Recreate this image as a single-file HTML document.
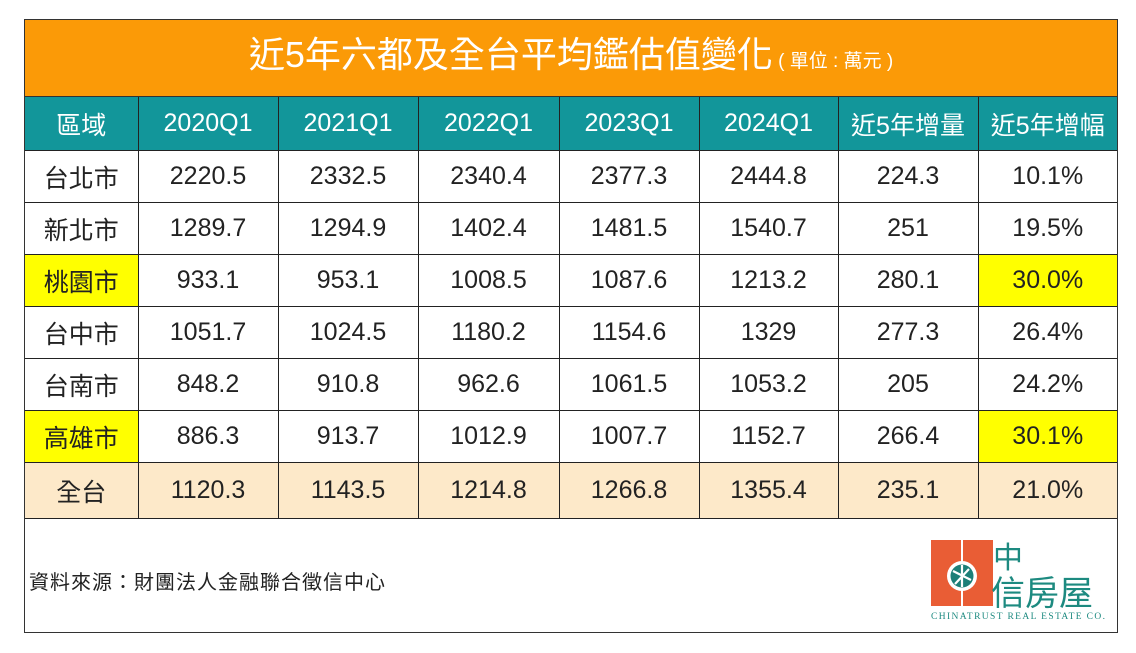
<!DOCTYPE html>
<html><head><meta charset="utf-8">
<style>
body{margin:0;background:#fff;width:1136px;height:653px;position:relative;overflow:hidden;font-family:"Liberation Sans","Noto Sans CJK TC",sans-serif;}
#box{position:absolute;left:24px;top:19px;width:1094px;height:614px;border:1.5px solid #333;box-sizing:border-box;}
#title{position:absolute;left:0;top:0;width:100%;height:77px;background:#fb9a07;color:#fff;text-align:center;line-height:70px;font-size:36px;border-bottom:1.5px solid #333;box-sizing:border-box;}
#title small{font-size:19px;}
table{position:absolute;left:0;top:77px;border-collapse:collapse;table-layout:fixed;width:1092px;}
td{border:1.5px solid #222;text-align:center;font-size:25px;color:#222;height:51px;padding:0;}
tr:first-child td{border-top:none;}
td:first-child{border-left:none}td:last-child{border-right:none}
tr.h td{background:#12969a;color:#fff;height:53px;}
tr.t td{background:#fde9c9;height:55px;}
.y{background:#ffff00;}
#src{position:absolute;left:4px;top:546px;font-size:20px;letter-spacing:1px;color:#222;}
</style></head><body>
<div id="box">
<div id="title">近5年六都及全台平均鑑估值變化<small> ( 單位 : 萬元 )</small></div>
<table>
<colgroup><col style="width:113px"><col style="width:140px"><col style="width:140px"><col style="width:141px"><col style="width:140px"><col style="width:139px"><col style="width:140px"><col style="width:139px"></colgroup>
<tr class="h"><td>區域</td><td>2020Q1</td><td>2021Q1</td><td>2022Q1</td><td>2023Q1</td><td>2024Q1</td><td>近5年增量</td><td>近5年增幅</td></tr>
<tr><td>台北市</td><td>2220.5</td><td>2332.5</td><td>2340.4</td><td>2377.3</td><td>2444.8</td><td>224.3</td><td>10.1%</td></tr>
<tr><td>新北市</td><td>1289.7</td><td>1294.9</td><td>1402.4</td><td>1481.5</td><td>1540.7</td><td>251</td><td>19.5%</td></tr>
<tr><td class="y">桃園市</td><td>933.1</td><td>953.1</td><td>1008.5</td><td>1087.6</td><td>1213.2</td><td>280.1</td><td class="y">30.0%</td></tr>
<tr><td>台中市</td><td>1051.7</td><td>1024.5</td><td>1180.2</td><td>1154.6</td><td>1329</td><td>277.3</td><td>26.4%</td></tr>
<tr><td>台南市</td><td>848.2</td><td>910.8</td><td>962.6</td><td>1061.5</td><td>1053.2</td><td>205</td><td>24.2%</td></tr>
<tr><td class="y">高雄市</td><td>886.3</td><td>913.7</td><td>1012.9</td><td>1007.7</td><td>1152.7</td><td>266.4</td><td class="y">30.1%</td></tr>
<tr class="t"><td>全台</td><td>1120.3</td><td>1143.5</td><td>1214.8</td><td>1266.8</td><td>1355.4</td><td>235.1</td><td>21.0%</td></tr>
</table>
<div id="src">資料來源：財團法人金融聯合徵信中心</div>
<svg style="position:absolute;left:904px;top:518px" width="185" height="90">
<path d="M2 2h30v28h2v-28h30v66h-30v-22h-2v22h-30z" fill="#e95d35"/>
<circle cx="33" cy="38" r="15" fill="#fff"/>
<circle cx="33" cy="38" r="11.5" fill="#1d7f78"/>
<path d="M24 33l18 9M26 46l14-15M33 27v22" stroke="#fff" stroke-width="2.2"/>
<text x="64" y="30" font-size="30" fill="#1d8a80" font-family="Noto Sans CJK TC,sans-serif">中</text>
<text x="62" y="67" font-size="34" fill="#1d8a80" font-family="Noto Sans CJK TC,sans-serif">信房屋</text>
<text x="2" y="81" font-size="9.5" fill="#1d8a80" font-family="Liberation Serif,serif" textLength="174">CHINATRUST REAL ESTATE CO.</text>
</svg>
</div>
</body></html>
